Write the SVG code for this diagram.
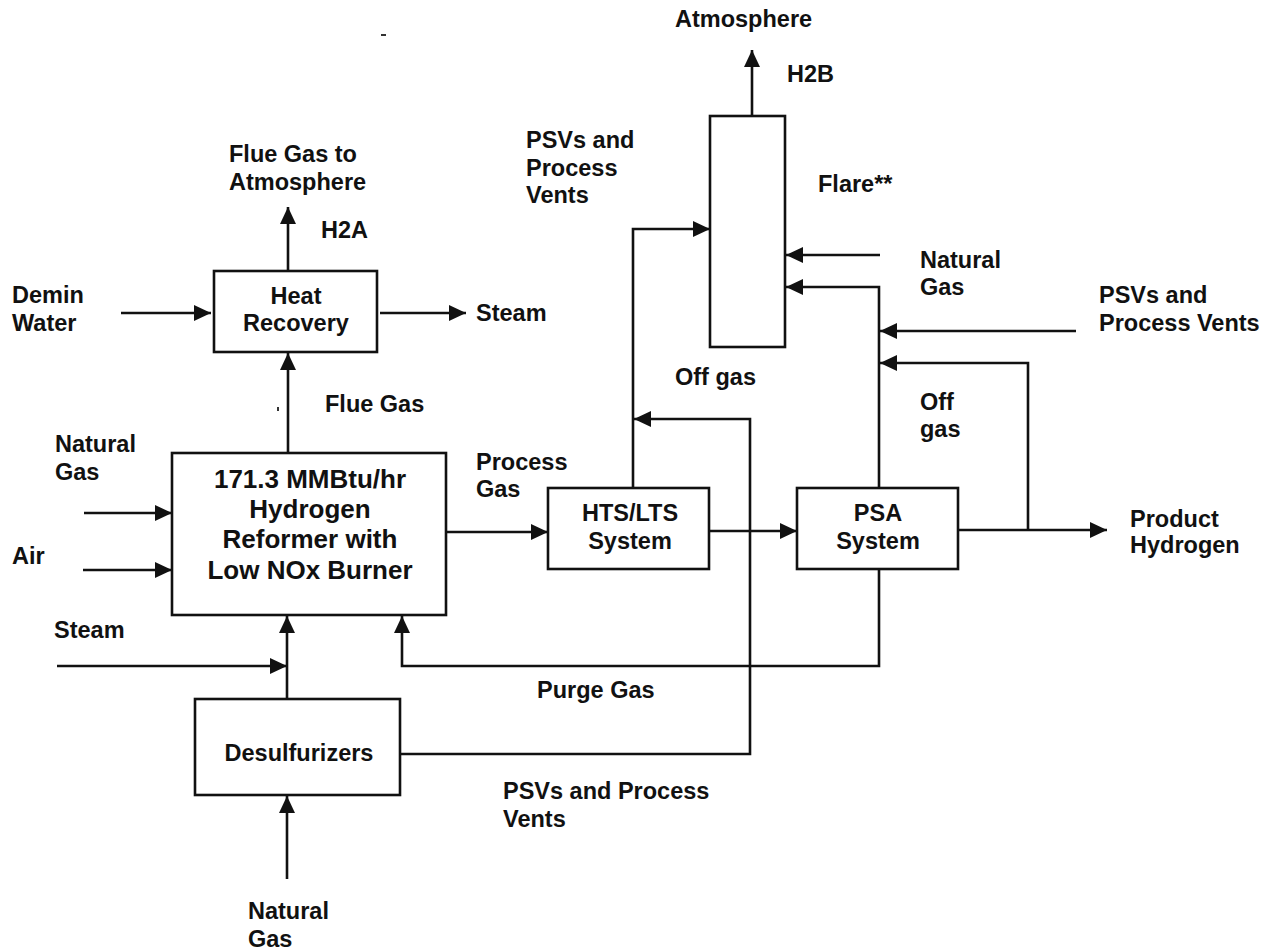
<svg xmlns="http://www.w3.org/2000/svg" width="1270" height="952" viewBox="0 0 1270 952">
  <style>
    text { font-family: "Liberation Sans", Arial, Helvetica, sans-serif; font-weight: bold; font-size: 23.5px; fill: #111; }
    .big { font-size: 26px; }
    .mid { text-anchor: middle; }
    .box { fill: #fff; stroke: #111; stroke-width: 2.6; }
    .flow { fill: none; stroke: #111; stroke-width: 2.6; }
    .flow.arrow { marker-end: url(#head); }
  </style>
  <defs>
    <marker id="head" markerUnits="userSpaceOnUse" markerWidth="18" markerHeight="17" refX="17" refY="8" orient="auto">
      <path d="M0,0 L17,8 L0,16 z" fill="#111"/>
    </marker>
  </defs>
  <rect width="1270" height="952" fill="#fff"/>

  <!-- process streams -->
  <g id="connectors">
    <path class="flow arrow" d="M288,271 V207"/>
    <path class="flow arrow" d="M752,116 V50"/>
    <path class="flow arrow" d="M121,313 H211"/>
    <path class="flow arrow" d="M380,313 H466"/>
    <path class="flow arrow" d="M288,453 V353"/>
    <path class="flow arrow" d="M84,513 H172"/>
    <path class="flow arrow" d="M83,570 H172"/>
    <path class="flow arrow" d="M57,666 H287"/>
    <path class="flow arrow" d="M287,699 V616"/>
    <path class="flow arrow" d="M287,879 V796"/>
    <path class="flow arrow" d="M879,569 V666 H402 V616"/>
    <path class="flow arrow" d="M400,754 H750 V419 H634"/>
    <path class="flow arrow" d="M633,488 V229 H710"/>
    <path class="flow arrow" d="M446,532 H548"/>
    <path class="flow arrow" d="M709,531 H797"/>
    <path class="flow arrow" d="M958,530 H1107"/>
    <path class="flow arrow" d="M1028,530 V363 H880"/>
    <path class="flow arrow" d="M879,488 V287 H786"/>
    <path class="flow arrow" d="M880,255 H786"/>
    <path class="flow arrow" d="M1076,331 H880"/>
  </g>

  <g id="heat-recovery">
    <rect class="box" x="214" y="271" width="163" height="81"/>
    <text class="mid" x="296" y="304">Heat</text>
    <text class="mid" x="296" y="331">Recovery</text>
  </g>

  <g id="reformer">
    <rect class="box" x="172" y="453" width="274" height="162"/>
    <text class="big mid" x="310" y="488">171.3 MMBtu/hr</text>
    <text class="big mid" x="310" y="518">Hydrogen</text>
    <text class="big mid" x="310" y="548">Reformer with</text>
    <text class="big mid" x="310" y="579">Low NOx Burner</text>
  </g>

  <g id="desulfurizers">
    <rect class="box" x="195" y="699" width="205" height="96"/>
    <text class="mid" x="299" y="761">Desulfurizers</text>
  </g>

  <g id="hts-lts">
    <rect class="box" x="548" y="488" width="161" height="81"/>
    <text class="mid" x="630" y="521">HTS/LTS</text>
    <text class="mid" x="630" y="549">System</text>
  </g>

  <g id="psa">
    <rect class="box" x="797" y="488" width="161" height="81"/>
    <text class="mid" x="878" y="521">PSA</text>
    <text class="mid" x="878" y="549">System</text>
  </g>

  <g id="flare">
    <rect class="box" x="710" y="116" width="75" height="231"/>
  </g>

  <!-- stream labels -->
  <g id="labels">
    <text x="675" y="27">Atmosphere</text>
    <text x="787" y="82">H2B</text>
    <text x="526" y="148">PSVs and</text>
    <text x="526" y="176">Process</text>
    <text x="526" y="203">Vents</text>
    <text x="818" y="192">Flare**</text>
    <text x="229" y="162">Flue Gas to</text>
    <text x="229" y="190">Atmosphere</text>
    <text x="321" y="238">H2A</text>
    <text x="12" y="303">Demin</text>
    <text x="12" y="331">Water</text>
    <text x="476" y="321">Steam</text>
    <text x="325" y="412">Flue Gas</text>
    <text x="55" y="452">Natural</text>
    <text x="55" y="480">Gas</text>
    <text x="12" y="564">Air</text>
    <text x="54" y="638">Steam</text>
    <text x="476" y="470">Process</text>
    <text x="476" y="497">Gas</text>
    <text x="675" y="385">Off gas</text>
    <text x="920" y="268">Natural</text>
    <text x="920" y="295">Gas</text>
    <text x="1099" y="303">PSVs and</text>
    <text x="1099" y="331">Process Vents</text>
    <text x="920" y="410">Off</text>
    <text x="920" y="437">gas</text>
    <text x="1130" y="527">Product</text>
    <text x="1130" y="553">Hydrogen</text>
    <text x="537" y="698">Purge Gas</text>
    <text x="503" y="799">PSVs and Process</text>
    <text x="503" y="827">Vents</text>
    <text x="248" y="919">Natural</text>
    <text x="248" y="947">Gas</text>
  </g>

  <!-- stray print marks -->
  <rect x="381" y="34" width="5" height="2" fill="#333"/>
  <rect x="277" y="407" width="2" height="4" fill="#333"/>
</svg>
